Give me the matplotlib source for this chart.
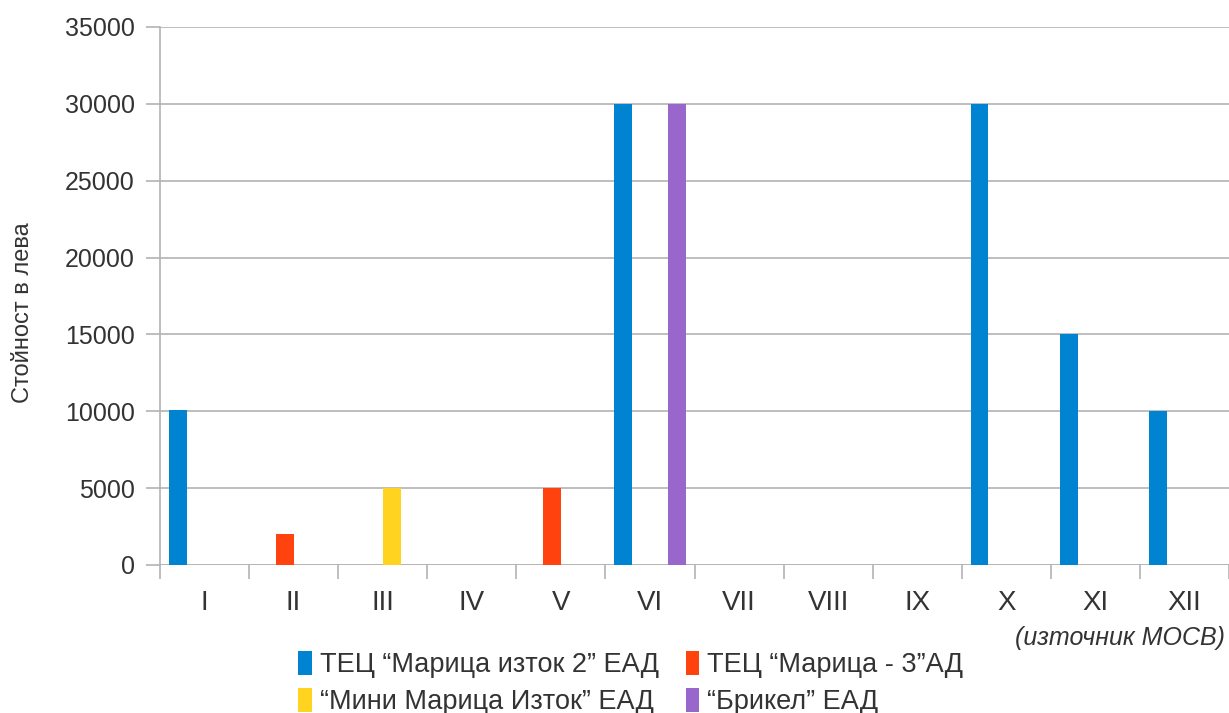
import numpy as np
import matplotlib.pyplot as plt
from matplotlib.ticker import FixedLocator

plt.rcParams['font.family'] = ['Liberation Sans', 'DejaVu Sans']

# Данни
meseci = ['I', 'II', 'III', 'IV', 'V', 'VI', 'VII', 'VIII', 'IX', 'X', 'XI', 'XII']
serii = ['ТЕЦ “Марица изток 2” ЕАД', 'ТЕЦ “Марица - 3”АД',
         '“Мини Марица Изток” ЕАД', '“Брикел” ЕАД']
marica_iztok2 = [10100, 0, 0, 0, 0, 30000, 0, 0, 0, 30000, 15000, 10000]
marica3 = [0, 2000, 0, 0, 5000, 0, 0, 0, 0, 0, 0, 0]
mini_marica = [0, 0, 5000, 0, 0, 0, 0, 0, 0, 0, 0, 0]
brikel = [0, 0, 0, 0, 0, 30000, 0, 0, 0, 0, 0, 0]
cvetove = ['#0084d1', '#ff420e', '#ffd320', '#9966cc']

W, H = 1229, 713
fig = plt.figure(figsize=(W / 100, H / 100), dpi=100)
ax = fig.add_axes([160 / W, 1 - 565 / H, (W - 160) / W, (565 - 27) / H])

x = np.arange(len(meseci))
shirina = 0.2
stoinosti = [marica_iztok2, marica3, mini_marica, brikel]
stulbove = []
for i, (vals, cvyat, ime) in enumerate(zip(stoinosti, cvetove, serii)):
    b = ax.bar(x + (i - 1.5) * shirina, vals, shirina, color=cvyat, label=ime, zorder=3)
    stulbove.append(b)

ax.set_xlim(-0.5, 11.5)
ax.set_ylim(0, 35000)
ax.set_yticks(range(0, 35001, 5000))
ax.set_xticks(x)
ax.set_xticklabels(meseci)
ax.xaxis.set_minor_locator(FixedLocator(np.arange(-0.5, 11.6, 1)))

siv = '#b3b3b3'
tekst = '#333333'
ax.grid(axis='y', color=siv, linewidth=1.2, zorder=0)
for s in ['top', 'right', 'bottom']:
    ax.spines[s].set_visible(False)
ax.spines['left'].set_color(siv)
ax.spines['left'].set_linewidth(1.2)
ax.axhline(0, color=siv, linewidth=1.2, zorder=2)
ax.tick_params(axis='y', length=10, color=siv, width=1.2, labelsize=18,
               labelcolor=tekst, pad=8)
ax.tick_params(axis='x', which='major', length=0, labelsize=20, labelcolor=tekst, pad=18)
ax.tick_params(axis='x', which='minor', length=10, color=siv, width=1.2)

ax.set_ylabel('Стойност в лева', fontsize=17, color=tekst)
ax.yaxis.set_label_coords((34 - 160) / (W - 160), (565 - 313) / 538)

fig.text(1225 / W, 1 - 638 / H, '(източник МОСВ)', style='italic', fontsize=18,
         color=tekst, ha='right', va='center')

# ред 1: синьо, червено; ред 2: жълто, лилаво
red = [0, 2, 1, 3]
leg = fig.legend([stulbove[i] for i in red], [serii[i] for i in red],
                 loc='upper left', bbox_to_anchor=(298 / W, 1 - 651 / H), ncol=2,
                 frameon=False, fontsize=19.5, handlelength=0.5, handleheight=1.0,
                 handletextpad=0.3, columnspacing=1.0, labelspacing=0.35,
                 borderpad=0, borderaxespad=0)
for t in leg.get_texts():
    t.set_color(tekst)

fig.savefig('out.png', dpi=100)
